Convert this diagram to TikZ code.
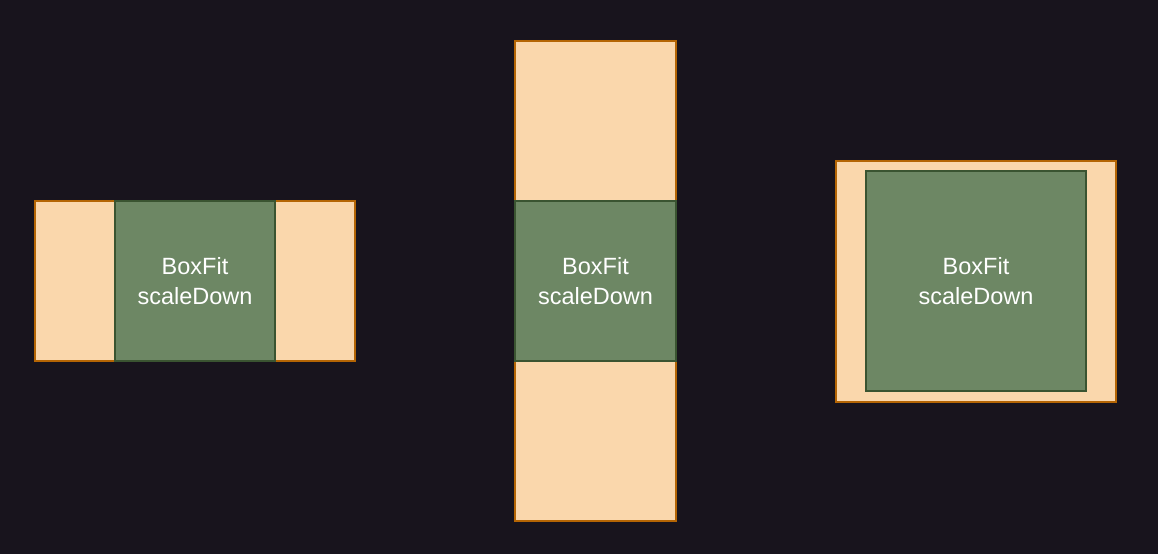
\documentclass[tikz,border=0pt]{standalone}
\usepackage{fontspec}
\setmainfont{Liberation Sans}
\definecolor{bgdark}{HTML}{18141D}
\definecolor{peachfill}{HTML}{FAD7AC}
\definecolor{peachline}{HTML}{B46504}
\definecolor{greenfill}{HTML}{6D8764}
\definecolor{greenline}{HTML}{3A5431}
\begin{document}
\begin{tikzpicture}[x=1pt, y=-1pt,
    outerbox/.style={rectangle, draw=peachline, fill=peachfill, line width=1.2pt, inner sep=0pt},
    innerbox/.style={rectangle, draw=greenline, fill=greenfill, line width=1.2pt, inner sep=0pt,
        text=white, align=center, font=\fontsize{23.5}{30}\selectfont}]
    % Background
    \fill[bgdark] (0,0) rectangle (1158,554);
    \useasboundingbox (0,0) rectangle (1158,554);

    % Wide box
    \node[outerbox, minimum width=320pt, minimum height=160pt] at (195,281) (wideout) {};
    \node[innerbox, minimum width=160pt, minimum height=160pt] at (195,281) (widein) {BoxFit\\scaleDown};

    % Tall box
    \node[outerbox, minimum width=161pt, minimum height=480pt] at (595.5,281) (tallout) {};
    \node[innerbox, minimum width=161pt, minimum height=160pt] at (595.5,281) (tallin) {BoxFit\\scaleDown};

    % Larger box
    \node[outerbox, minimum width=280pt, minimum height=241pt] at (976,281.5) (bigout) {};
    \node[innerbox, minimum width=220pt, minimum height=220pt] at (976,281) (bigin) {BoxFit\\scaleDown};
\end{tikzpicture}
\end{document}
